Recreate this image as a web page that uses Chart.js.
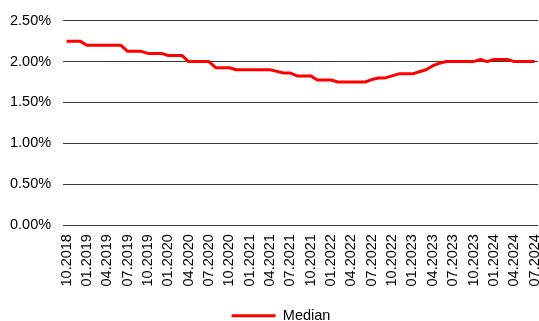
<!DOCTYPE html>
<html>
<head>
<meta charset="utf-8">
<script src="https://cdn.jsdelivr.net/npm/chart.js@4/dist/chart.umd.min.js"></script>
<style>
  html, body { margin: 0; padding: 0; background: #fff; }
  #wrap { width: 539px; height: 321px; }
</style>
</head>
<body>
<div id="wrap"><canvas id="c" width="539" height="321"></canvas></div>
<script>
// Monthly observations, October 2018 to July 2024
const months = [
  '10.2018', '11.2018', '12.2018',
  '01.2019', '02.2019', '03.2019', '04.2019', '05.2019', '06.2019',
  '07.2019', '08.2019', '09.2019', '10.2019', '11.2019', '12.2019',
  '01.2020', '02.2020', '03.2020', '04.2020', '05.2020', '06.2020',
  '07.2020', '08.2020', '09.2020', '10.2020', '11.2020', '12.2020',
  '01.2021', '02.2021', '03.2021', '04.2021', '05.2021', '06.2021',
  '07.2021', '08.2021', '09.2021', '10.2021', '11.2021', '12.2021',
  '01.2022', '02.2022', '03.2022', '04.2022', '05.2022', '06.2022',
  '07.2022', '08.2022', '09.2022', '10.2022', '11.2022', '12.2022',
  '01.2023', '02.2023', '03.2023', '04.2023', '05.2023', '06.2023',
  '07.2023', '08.2023', '09.2023', '10.2023', '11.2023', '12.2023',
  '01.2024', '02.2024', '03.2024', '04.2024', '05.2024', '06.2024',
  '07.2024'
];

// Median, in percent
const median = [
  2.25, 2.25, 2.25,
  2.20, 2.20, 2.20, 2.20, 2.20, 2.20,
  2.125, 2.125, 2.125, 2.10, 2.10, 2.10,
  2.075, 2.075, 2.075, 2.00, 2.00, 2.00,
  2.00, 1.925, 1.925, 1.925, 1.90, 1.90,
  1.90, 1.90, 1.90, 1.90, 1.88, 1.86,
  1.86, 1.825, 1.825, 1.825, 1.775, 1.775,
  1.775, 1.75, 1.75, 1.75, 1.75, 1.75,
  1.78, 1.80, 1.80, 1.825, 1.85, 1.85,
  1.85, 1.875, 1.90, 1.95, 1.98, 2.00,
  2.00, 2.00, 2.00, 2.00, 2.025, 2.00,
  2.025, 2.025, 2.025, 2.00, 2.00, 2.00,
  2.00
];

const seriesName = 'Median';
const labelEvery = 3;          // a date label on every third month
const yTicks = [0, 0.5, 1, 1.5, 2, 2.5];

const FONT = { family: '"Liberation Sans", Arial, sans-serif', size: 14.5 };
const X_PAD = 9;
const Y_PAD = 12;

// Moves the legend down and a little to the right, under the plot
const legendPlacement = {
  id: 'legendPlacement',
  afterLayout(chart) {
    const lg = chart.legend;
    if (!lg) return;
    lg.left += 7; lg.right += 7;
    lg.top += 12; lg.bottom += 12;
  }
};

new Chart(document.getElementById('c'), {
  type: 'line',
  data: {
    labels: months,
    datasets: [{
      label: seriesName,
      data: median,
      borderColor: '#ff0000',
      backgroundColor: '#ff0000',
      borderWidth: 3,
      pointRadius: 0,
      pointHoverRadius: 0,
      tension: 0,
      borderJoinStyle: 'round',
      fill: false
    }]
  },
  options: {
    responsive: false,
    animation: false,
    devicePixelRatio: 1,
    layout: { padding: { top: 19, left: 10, right: 1, bottom: 0 } },
    plugins: {
      tooltip: { enabled: false },
      legend: {
        position: 'bottom',
        labels: {
          usePointStyle: true,
          pointStyle: 'line',
          pointStyleWidth: 44,
          color: '#000',
          font: FONT
        }
      }
    },
    scales: {
      x: {
        type: 'category',
        offset: true,
        grid: { display: false, drawTicks: false },
        border: { display: false },
        // keep the axis tight: no edge padding, padding only between axis and labels
        afterFit: (scale) => {
          scale.paddingLeft = 0;
          scale.paddingRight = 0;
          scale.height -= X_PAD;
        },
        ticks: {
          autoSkip: false,
          minRotation: 90,
          maxRotation: 90,
          padding: X_PAD,
          color: '#000',
          font: FONT,
          callback: (v, i) => (i % labelEvery === 0 ? months[i] : '')
        }
      },
      y: {
        min: yTicks[0],
        max: yTicks[yTicks.length - 1],
        afterBuildTicks: (scale) => { scale.ticks = yTicks.map(v => ({ value: v })); },
        afterFit: (scale) => { scale.width -= Y_PAD; },
        grid: { color: '#3a3a3a', lineWidth: 1, drawTicks: false },
        border: { display: false },
        ticks: {
          padding: Y_PAD,
          color: '#000',
          font: FONT,
          callback: (v) => Number(v).toFixed(2) + '%'
        }
      }
    }
  },
  plugins: [legendPlacement]
});
</script>
</body>
</html>
